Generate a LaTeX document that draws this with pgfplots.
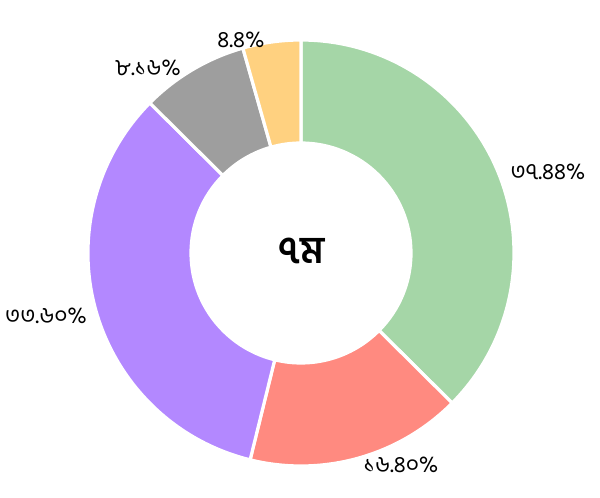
\documentclass[border=0pt]{standalone}
\usepackage{pgfplots}
\pgfplotsset{compat=1.18}
\usepackage{fontspec}
\newfontfamily\bnfont[Script=Bengali]{Hind Siliguri}
\definecolor{pgreen}{HTML}{A5D6A7}
\definecolor{pred}{HTML}{FF8A80}
\definecolor{ppurple}{HTML}{B388FF}
\definecolor{pgray}{HTML}{9E9E9E}
\definecolor{pyellow}{HTML}{FFD180}
\begin{document}
\begin{tikzpicture}
\begin{axis}[x=0.5pt,y=0.5pt,xmin=0,xmax=600,ymin=0,ymax=498,
  hide axis,clip=false,scale only axis]
\path (axis cs:0,0) rectangle (axis cs:600,498);
\gdef\angstart{90}
\foreach \v/\c in {37.44/pgreen,16.40/pred,33.60/ppurple,8.16/pgray,4.4/pyellow}{
  \pgfmathsetmacro\angend{\angstart-3.6*\v}
  \edef\temp{\noexpand\fill[\c,draw=white,line width=1.6pt,shift={(axis cs:301,245)}]
    (\angstart:106.5pt) arc[start angle=\angstart,end angle=\angend,radius=106.5pt]
    -- (\angend:55pt) arc[start angle=\angend,end angle=\angstart,radius=55pt] -- cycle;}
  \temp
  \global\let\angstart\angend
}
\tikzset{lbl/.style={font=\bnfont\fontsize{11.5pt}{13pt}\selectfont,inner sep=0pt}}
\node[lbl] at (axis cs:548,326) {৩৭.৪৪\%};
\node[lbl] at (axis cs:401,33) {১৬.৪০\%};
\node[lbl] at (axis cs:46,182) {৩৩.৬০\%};
\node[lbl] at (axis cs:148,430) {৮.১৬\%};
\node[lbl] at (axis cs:241,458) {৪.৪\%};
\node[font=\bnfont\bfseries\fontsize{19pt}{21pt}\selectfont] at (axis cs:301,247) {৭ম};
\end{axis}
\end{tikzpicture}
\end{document}
